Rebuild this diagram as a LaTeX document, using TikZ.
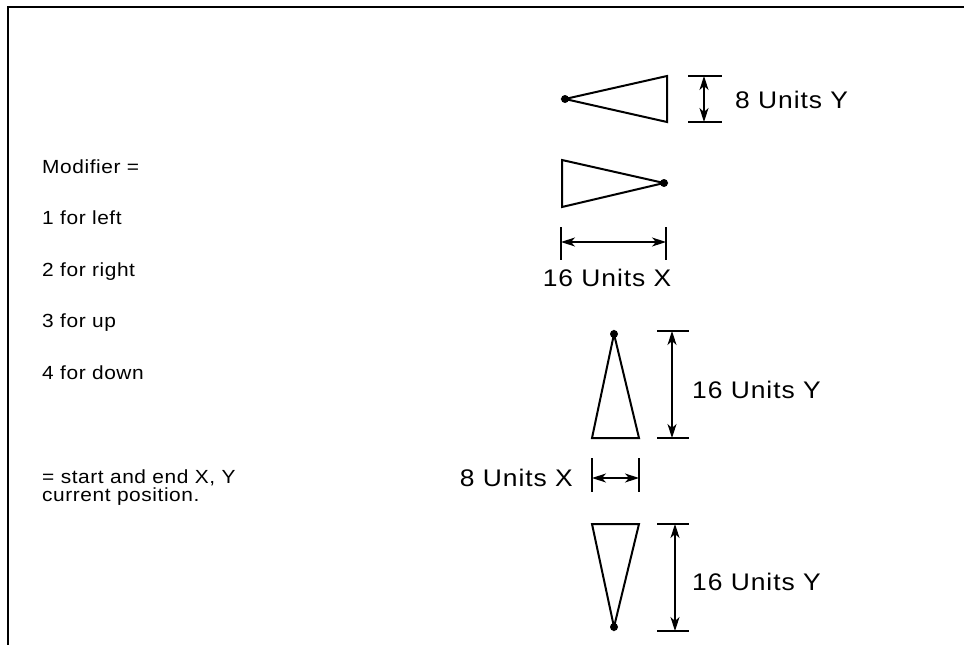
\documentclass[tikz,border=0pt]{standalone}
\usepackage{fontspec}
\setmainfont{Liberation Sans}
\newfontfamily\lblfont[FakeStretch=1.1,LetterSpace=4]{Liberation Sans}
\newfontfamily\txtfont[FakeStretch=1.1,LetterSpace=3]{Liberation Sans}
\usetikzlibrary{arrows.meta}
\begin{document}
\begin{tikzpicture}[x=1pt,y=-1pt,
  frame/.style={line width=1.4pt},
  tri/.style={line width=2pt, line join=miter},
  tick/.style={line width=1.1pt},
  dim/.style={line width=1.1pt, {Stealth[length=14pt,width=9pt,inset=4pt]}-{Stealth[length=14pt,width=9pt,inset=4pt]}},
  dot/.style={circle, fill=black, inner sep=0pt, minimum size=8pt},
  lbl/.style={font=\lblfont\fontsize{24}{28}\selectfont, inner sep=0pt},
  txt/.style={font=\txtfont\fontsize{19}{22}\selectfont, inner sep=0pt, anchor=base west}]
\useasboundingbox (0,0) rectangle (964,645);
% frame
\coordinate (fTL) at (8,7);
\coordinate (fTR) at (964,7);
\coordinate (fBL) at (8,645);
\draw[frame] (fTR) -- (fTL) -- (fBL);

% left texts
\node[txt] (mod) at (42,173) {Modifier =};
\node[txt] (m1) at (42,224) {1 for left};
\node[txt] (m2) at (42,276) {2 for right};
\node[txt] (m3) at (42,327) {3 for up};
\node[txt] (m4) at (42,379) {4 for down};
\node[txt] (st1) at (42,483) {= start and end X, Y};
\node[txt] (st2) at (42,501) {current position.};

% triangle 1 (left)
\node[dot] (d1) at (565,99) {};
\coordinate (a1) at (667,76);
\coordinate (b1) at (667,122);
\draw[tri] (d1.center) -- (a1) -- (b1) -- cycle;
\coordinate (k1a) at (688,76); \coordinate (k1b) at (722,76);
\coordinate (k1c) at (688,122); \coordinate (k1d) at (722,122);
\draw[tick] (k1a) -- (k1b);
\draw[tick] (k1c) -- (k1d);
\coordinate (r1a) at (704,76); \coordinate (r1b) at (704,122);
\draw[dim] (r1a) -- (r1b);
\node[lbl, anchor=base west] (l1) at (735,108) {8 Units Y};

% triangle 2 (right)
\node[dot] (d2) at (664,183) {};
\coordinate (a2) at (562,160);
\coordinate (b2) at (562,207);
\draw[tri] (d2.center) -- (a2) -- (b2) -- cycle;
\coordinate (k2a) at (561,227); \coordinate (k2b) at (561,260);
\coordinate (k2c) at (666,227); \coordinate (k2d) at (666,260);
\draw[tick] (k2a) -- (k2b);
\draw[tick] (k2c) -- (k2d);
\coordinate (r2a) at (561,242); \coordinate (r2b) at (666,242);
\draw[dim] (r2a) -- (r2b);
\node[lbl, anchor=base] (l2) at (607,286) {16 Units X};

% triangle 3 (up)
\node[dot] (d3) at (614,334) {};
\coordinate (a3) at (592,438);
\coordinate (b3) at (639,438);
\draw[tri] (d3.center) -- (a3) -- (b3) -- cycle;
\coordinate (k3a) at (657,331); \coordinate (k3b) at (689,331);
\coordinate (k3c) at (657,438); \coordinate (k3d) at (689,438);
\draw[tick] (k3a) -- (k3b);
\draw[tick] (k3c) -- (k3d);
\coordinate (r3a) at (672,331); \coordinate (r3b) at (672,438);
\draw[dim] (r3a) -- (r3b);
\node[lbl, anchor=base west] (l3) at (692,398) {16 Units Y};

% 8 units X
\coordinate (k4a) at (592,458); \coordinate (k4b) at (592,492);
\coordinate (k4c) at (639,458); \coordinate (k4d) at (639,492);
\draw[tick] (k4a) -- (k4b);
\draw[tick] (k4c) -- (k4d);
\coordinate (r4a) at (592,478); \coordinate (r4b) at (639,478);
\draw[dim] (r4a) -- (r4b);
\node[lbl, anchor=base east] (l4) at (573,486) {8 Units X};

% triangle 4 (down)
\node[dot] (d5) at (614,627) {};
\coordinate (a5) at (592,524);
\coordinate (b5) at (639,524);
\draw[tri] (d5.center) -- (a5) -- (b5) -- cycle;
\coordinate (k5a) at (657,524); \coordinate (k5b) at (689,524);
\coordinate (k5c) at (657,631); \coordinate (k5d) at (689,631);
\draw[tick] (k5a) -- (k5b);
\draw[tick] (k5c) -- (k5d);
\coordinate (r5a) at (675,524); \coordinate (r5b) at (675,631);
\draw[dim] (r5a) -- (r5b);
\node[lbl, anchor=base west] (l5) at (692,590) {16 Units Y};
\end{tikzpicture}
\end{document}
